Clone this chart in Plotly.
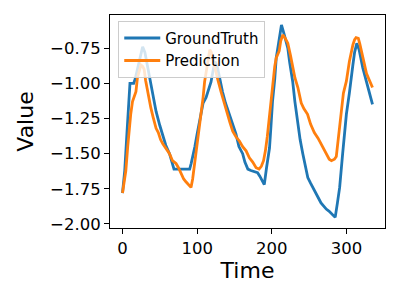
import plotly.graph_objects as go

gt_t = [0, 3, 6, 9, 10, 15, 17, 20, 24, 27, 30, 33, 36, 40, 45, 50, 54, 58, 63, 66, 69, 75, 80, 85, 90,
        92, 94, 97, 100, 103, 105, 108, 112, 115, 118.6, 121, 124, 127, 130, 134, 138, 143, 147, 152, 156,
        161, 164, 168, 172, 177, 181, 184, 187, 190, 193, 197, 199, 201, 204, 206, 209, 211, 213, 216, 219,
        221.5, 224, 228, 231, 235, 238, 241.6, 245, 248.3, 252, 257, 262, 266, 270, 273, 277, 281, 285, 288,
        291, 295, 300, 304, 306, 308.7, 311, 314, 317, 322, 326.7, 330, 335]
gt_v = [-1.78, -1.62, -1.35, -1.05, -1.00, -1.00, -0.97, -0.90, -0.80, -0.74, -0.78, -0.86, -0.94, -1.05,
        -1.20, -1.30, -1.38, -1.44, -1.50, -1.55, -1.61, -1.61, -1.61, -1.61, -1.61, -1.57, -1.53, -1.45,
        -1.36, -1.27, -1.20, -1.14, -1.10, -1.05, -0.99, -0.92, -0.845, -0.88, -0.96, -1.06, -1.14, -1.22,
        -1.29, -1.36, -1.45, -1.50, -1.56, -1.61, -1.62, -1.63, -1.635, -1.66, -1.69, -1.72, -1.60, -1.46,
        -1.30, -1.13, -0.97, -0.82, -0.72, -0.65, -0.585, -0.64, -0.70, -0.75, -0.85, -0.985, -1.13, -1.29,
        -1.40, -1.50, -1.60, -1.67, -1.71, -1.765, -1.81, -1.85, -1.88, -1.894, -1.91, -1.93, -1.953, -1.85,
        -1.74, -1.50, -1.22, -1.07, -1.00, -0.87, -0.78, -0.715, -0.76, -0.89, -0.985, -1.05, -1.15]

pr_t = [0, 2, 4.5, 7, 9, 11, 13.4, 16, 18, 20, 22, 24.7, 27, 29, 31, 33.6, 36, 38, 41, 45, 48, 51, 54, 58,
        63, 67, 71.7, 75, 78, 82, 85, 88, 91.8, 94, 96, 98.5, 100.7, 103, 105, 108, 110, 112, 114, 117, 119,
        122, 125, 128, 132, 136, 141, 144, 147.7, 152, 156.6, 161, 165.6, 170, 174.5, 179, 183, 186, 189,
        191.5, 194, 197, 199, 201, 204, 206, 210, 212, 214.8, 218, 221.5, 225, 228, 231, 235, 239.5, 243,
        248, 252, 257, 262, 266, 270, 273, 277, 280, 284, 286.5, 288.6, 291, 293, 296, 300, 304, 308.7, 311,
        313, 316, 318, 322, 327, 331, 335]
pr_v = [-1.78, -1.72, -1.62, -1.45, -1.32, -1.22, -1.13, -1.09, -1.06, -0.96, -0.92, -0.87, -0.88, -0.90,
        -0.98, -1.06, -1.12, -1.175, -1.24, -1.32, -1.35, -1.40, -1.43, -1.46, -1.50, -1.55, -1.57, -1.60,
        -1.64, -1.68, -1.70, -1.72, -1.74, -1.68, -1.60, -1.50, -1.39, -1.30, -1.22, -1.10, -0.99, -0.92,
        -0.845, -0.762, -0.78, -0.85, -0.90, -0.98, -1.06, -1.14, -1.22, -1.28, -1.34, -1.38, -1.41, -1.45,
        -1.48, -1.53, -1.56, -1.60, -1.61, -1.59, -1.55, -1.48, -1.38, -1.22, -1.10, -0.99, -0.88, -0.82,
        -0.77, -0.70, -0.656, -0.68, -0.715, -0.80, -0.89, -0.96, -1.03, -1.14, -1.18, -1.22, -1.29, -1.35,
        -1.39, -1.43, -1.48, -1.51, -1.54, -1.55, -1.54, -1.52, -1.41, -1.30, -1.175, -1.07, -0.985, -0.845,
        -0.727, -0.69, -0.675, -0.68, -0.72, -0.82, -0.93, -0.98, -1.03]

x_ticks = [0, 100, 200, 300]
y_ticks = [-2.00, -1.75, -1.50, -1.25, -1.00, -0.75]
y_tick_labels = ["−2.00", "−1.75", "−1.50", "−1.25", "−1.00", "−0.75"]

font = "DejaVu Sans"
fig = go.Figure()
fig.add_trace(go.Scatter(x=gt_t, y=gt_v, mode="lines", name="GroundTruth",
                         line=dict(color="#1f77b4", width=2.8)))
fig.add_trace(go.Scatter(x=pr_t, y=pr_v, mode="lines", name="Prediction",
                         line=dict(color="#ff7f0e", width=2.8)))

axis_common = dict(showline=True, mirror=True, linecolor="black", linewidth=1.1,
                   ticks="outside", ticklen=5, tickwidth=1.1, tickcolor="black",
                   showgrid=False, zeroline=False,
                   tickfont=dict(family=font, size=16.5, color="black"))
fig.update_xaxes(range=[-16.75, 351.75], tickvals=x_ticks,
                 title=dict(text="Time", font=dict(family=font, size=22, color="black"), standoff=4),
                 **axis_common)
fig.update_yaxes(range=[-2.0285, -0.5145], tickvals=y_ticks, ticktext=y_tick_labels,
                 title=dict(text="Value", font=dict(family=font, size=22, color="black"), standoff=10),
                 **axis_common)
fig.update_layout(
    width=400, height=300,
    margin=dict(l=102, r=23, t=7, b=80, autoexpand=False),
    paper_bgcolor="white", plot_bgcolor="white",
    font=dict(family=font, color="black"),
    legend=dict(x=0.03, y=0.973, xanchor="left", yanchor="top",
                bgcolor="rgba(255,255,255,0.8)", bordercolor="#cccccc", borderwidth=1,
                itemwidth=36,
                font=dict(family=font, size=15, color="black"), tracegroupgap=0),
)
fig.write_html("out.html")
